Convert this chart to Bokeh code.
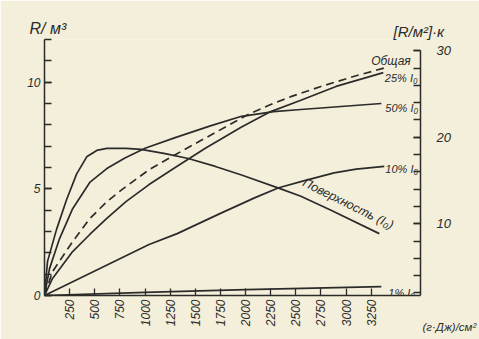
import math
from bokeh.plotting import figure
from bokeh.models import Range1d, LinearAxis, FixedTicker, Label, Title
from bokeh.embed import file_html
from bokeh.resources import INLINE

# ---- data (left-axis units R/м³) ----
surface_x = [0, 30, 120, 220, 320, 420, 520, 620, 810, 960, 1200, 1430, 1700, 1960, 2350, 2550, 2850, 3330]
surface_y = [0, 1.6, 3.1, 4.5, 5.7, 6.5, 6.8, 6.9, 6.9, 6.85, 6.65, 6.42, 6.05, 5.65, 5.0, 4.65, 4.0, 2.9]

p50_x = [0, 50, 150, 280, 450, 620, 800, 1000, 1300, 1650, 1960, 2280, 2550, 2950, 3350]
p50_y = [0, 1.26, 2.67, 4.07, 5.3, 5.95, 6.45, 6.9, 7.4, 7.95, 8.4, 8.62, 8.72, 8.86, 9.0]

total_x = [0, 80, 280, 450, 620, 780, 940, 1040, 1300, 1550, 1800, 2040, 2250, 2450, 2750, 3100, 3420]
total_y = [0, 1.12, 2.53, 3.6, 4.4, 5.0, 5.55, 5.9, 6.6, 7.25, 7.9, 8.52, 8.95, 9.32, 9.8, 10.3, 10.72]

p25_x = [0, 80, 280, 450, 620, 810, 1040, 1300, 1600, 1960, 2250, 2550, 2900, 3370]
p25_y = [0, 0.8, 2.06, 2.86, 3.61, 4.4, 5.2, 6.0, 6.9, 7.9, 8.62, 9.15, 9.8, 10.45]

p10_x = [0, 520, 1040, 1320, 1750, 2100, 2330, 2550, 2880, 3100, 3380]
p10_y = [0, 1.2, 2.39, 2.9, 3.85, 4.6, 5.05, 5.34, 5.75, 5.92, 6.05]

p1_x = [0, 1000, 2000, 3350]
p1_y = [0, 0.15, 0.28, 0.42]

x_ticks = [250, 500, 750, 1000, 1250, 1500, 1750, 2000, 2250, 2500, 2750, 3000, 3250]
left_ticks = [0, 5, 10]
left_minor = list(range(0, 13))
right_ticks = [10, 20, 30]
right_minor = list(range(2, 31, 2))

BG = "#f4efda"
INK = "#2b2b2b"
FONT = "Liberation Sans"

p = figure(width=479, height=339, output_backend="svg", toolbar_location=None,
           title_location=None,
           x_range=Range1d(0, 3740), y_range=Range1d(0, 12),
           min_border_left=44, min_border_right=59, min_border_top=39, min_border_bottom=44,
           background_fill_color=BG, border_fill_color=BG, outline_line_color=None)
p.grid.visible = False

for ax in (p.xaxis[0], p.yaxis[0]):
    ax.axis_line_color = INK
    ax.axis_line_width = 1.5
    ax.major_tick_line_color = INK
    ax.minor_tick_line_color = INK
    ax.major_tick_line_width = 1.3
    ax.minor_tick_line_width = 1.3
    ax.major_tick_in = 7
    ax.major_tick_out = 0
    ax.minor_tick_in = 7
    ax.minor_tick_out = 0
    ax.major_label_text_font = FONT
    ax.major_label_text_font_style = "italic"
    ax.major_label_text_font_size = "12px"
    ax.major_label_text_color = INK

p.xaxis.ticker = FixedTicker(ticks=x_ticks)
p.xaxis.major_label_orientation = math.pi / 2
p.xaxis.major_label_standoff = 4
p.xaxis.bounds = (0, 3740)

p.yaxis.ticker = FixedTicker(ticks=left_ticks, minor_ticks=left_minor)
p.yaxis.major_label_standoff = 4

p.extra_y_ranges = {"r": Range1d(1.7, 31.3)}
rax = LinearAxis(y_range_name="r", ticker=FixedTicker(ticks=right_ticks, minor_ticks=right_minor))
rax.bounds = (1.7, 30)
rax.axis_line_color = INK
rax.axis_line_width = 1.5
rax.major_tick_line_color = INK
rax.minor_tick_line_color = INK
rax.major_tick_line_width = 1.3
rax.minor_tick_line_width = 1.3
rax.major_tick_in = 7
rax.major_tick_out = 0
rax.minor_tick_in = 7
rax.minor_tick_out = 0
rax.major_label_text_font = FONT
rax.major_label_text_font_style = "italic"
rax.major_label_text_font_size = "13px"
rax.major_label_text_color = INK
rax.major_label_standoff = 16
p.add_layout(rax, "right")

lw = 1.7
p.line(surface_x, surface_y, line_color=INK, line_width=lw)
p.line(p50_x, p50_y, line_color=INK, line_width=lw)
p.line(total_x, total_y, line_color=INK, line_width=lw, line_dash="8 5")
p.line(p25_x, p25_y, line_color=INK, line_width=lw)
p.line(p10_x, p10_y, line_color=INK, line_width=lw)
p.line(p1_x, p1_y, line_color=INK, line_width=lw)


def lab(x, y, text, size="11px", angle=0.0, align="left", baseline="alphabetic"):
    p.add_layout(Label(x=x, y=y, text=text, text_font=FONT, text_font_style="italic",
                       text_font_size=size, text_color=INK, angle=angle,
                       text_align=align, text_baseline=baseline))


lab(3250, 11.0, "Общая", size="12px")
lab(3385, 10.2, "25% I₀")
lab(3390, 8.77, "50% I₀")
lab(3390, 5.95, "10% I₀")
lab(3420, 0.12, "1% I₀")
lab(2990, 4.0, "Поверхность (I₀)", size="12.5px", angle=-0.46, align="center", baseline="bottom")


def title(text, side, offset, standoff, valign, size):
    t = Title(text=text, align="left", offset=offset, standoff=standoff,
              vertical_align=valign, text_font=FONT, text_font_style="italic",
              text_font_size=size, text_color=INK)
    p.add_layout(t, side)


title("[R/м²]·к", "above", 349, -4, "top", "15px")
title("R/ м³", "above", -15, -24, "bottom", "16px")
title("(г·Дж)/см²", "below", 378, -17, "top", "11.5px")

open("out.html", "w").write(file_html(p, INLINE))
